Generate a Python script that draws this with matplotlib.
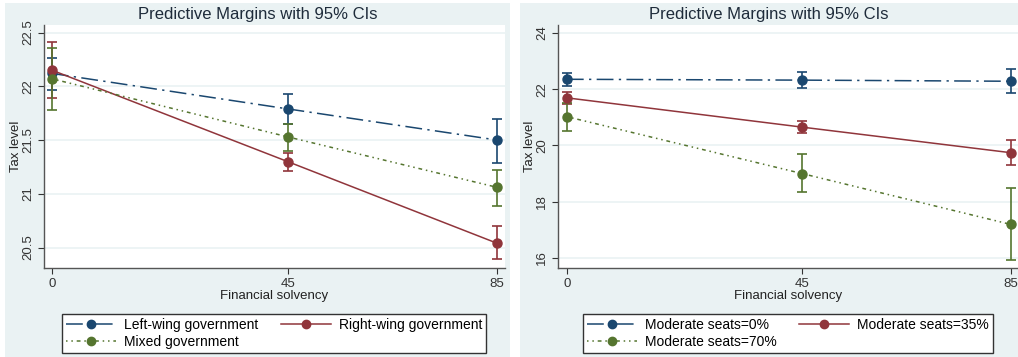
import numpy as np
import matplotlib.pyplot as plt
from matplotlib.lines import Line2D
from matplotlib.patches import Rectangle

plt.rcParams['font.family'] = ['Liberation Sans', 'DejaVu Sans']

# x positions (financial solvency)
solvency = [0, 45, 85]

# left panel: government type
gov_labels = ['Left-wing government', 'Right-wing government', 'Mixed government']
left_wing = [22.12, 21.79, 21.50]
left_wing_lo = [21.97, 21.65, 21.29]
left_wing_hi = [22.26, 21.93, 21.70]
right_wing = [22.15, 21.30, 20.54]
right_wing_lo = [21.89, 21.21, 20.39]
right_wing_hi = [22.41, 21.38, 20.70]
mixed = [22.07, 21.53, 21.06]
mixed_lo = [21.78, 21.40, 20.89]
mixed_hi = [22.36, 21.65, 21.22]

# right panel: share of moderate seats
seat_labels = ['Moderate seats=0%', 'Moderate seats=35%', 'Moderate seats=70%']
seats0 = [22.35, 22.32, 22.28]
seats0_lo = [22.11, 22.03, 21.85]
seats0_hi = [22.59, 22.60, 22.71]
seats35 = [21.69, 20.65, 19.74]
seats35_lo = [21.46, 20.44, 19.29]
seats35_hi = [21.91, 20.88, 20.20]
seats70 = [21.02, 19.00, 17.19]
seats70_lo = [20.51, 18.33, 15.91]
seats70_hi = [21.52, 19.69, 18.49]

NAVY = '#1a476f'
MAROON = '#90353b'
GREEN = '#55752f'
BG = '#eaf2f3'
W, H = 1018, 357

styles = [
    dict(color=NAVY, dashes=(11, 3.5, 1.5, 3.5)),
    dict(color=MAROON, linestyle='-'),
    dict(color=GREEN, dashes=(1, 2.5, 1, 2.5, 2.5, 2.5)),
]

fig = plt.figure(figsize=(W / 100, H / 100), dpi=100)
fig.patch.set_facecolor('white')


def px_axes(x0, y0, x1, y1):
    return fig.add_axes([x0 / W, 1 - y1 / H, (x1 - x0) / W, (y1 - y0) / H])


def panel(bx0, bx1, ax_box, xlim, ylim, yticks, ytlabels, series, labels, leg_center):
    fig.add_artist(Rectangle((bx0 / W, 0), (bx1 - bx0) / W, 1 - 3 / H,
                             transform=fig.transFigure, facecolor=BG,
                             edgecolor='none', zorder=0))
    ax = px_axes(*ax_box)
    ax.set_facecolor('white')
    ax.set_xlim(*xlim)
    ax.set_ylim(*ylim)
    for yt in yticks:
        ax.axhline(yt, color=BG, lw=1.2, zorder=0)
    for (y, lo, hi), st in zip(series, styles):
        y = np.array(y)
        err = [y - np.array(lo), np.array(hi) - y]
        ax.errorbar(solvency, y, yerr=err, fmt='none', ecolor=st['color'],
                    elinewidth=1.2, capsize=3.5, capthick=1.2, zorder=2)
        ax.plot(solvency, y, marker='o', markersize=6.5, lw=1.1, zorder=3, **st)
    ax.set_xticks(solvency)
    ax.set_xticklabels([str(s) for s in solvency], fontsize=9.5)
    ax.set_yticks(yticks)
    ax.set_yticklabels(ytlabels, fontsize=9.5, rotation=90, va='center')
    ax.tick_params(colors='#333333', length=4, width=0.8, direction='out')
    ax.tick_params(axis='y', pad=3)
    for s in ['top', 'right']:
        ax.spines[s].set_visible(False)
    for s in ['left', 'bottom']:
        ax.spines[s].set_color('#555555')
        ax.spines[s].set_linewidth(1.0)
    ax.set_xlabel('Financial solvency', fontsize=9.5, color='#222222', labelpad=0)
    ax.set_ylabel('Tax level', fontsize=9.5, color='#222222', labelpad=0)
    fig.text((bx0 + bx1) / 2 / W, 1 - 14 / H, 'Predictive Margins with 95% CIs',
             ha='center', va='center', fontsize=12, color='#1e2b3a')
    handles = [Line2D([], [], marker='o', markersize=6, lw=1.1, **st) for st in styles]
    # legend fills column-wise: put the third entry under the first
    order = [0, 2, 1]
    cx, cy = leg_center
    leg = fig.legend([handles[i] for i in order], [labels[i] for i in order],
                     ncol=2, loc='center', bbox_to_anchor=(cx / W, 1 - cy / H),
                     fontsize=10, frameon=True, fancybox=False,
                     edgecolor='#333333', facecolor='white', framealpha=1,
                     handlelength=3.6, handletextpad=0.6, borderpad=0.3,
                     labelspacing=0.2, columnspacing=1.6)
    leg.get_frame().set_linewidth(1.0)
    return ax


panel(5, 510, (44, 25, 505, 268), (-1.5, 86.5), (20.31, 22.57),
      [20.5, 21, 21.5, 22, 22.5], ['20.5', '21', '21.5', '22', '22.5'],
      [(left_wing, left_wing_lo, left_wing_hi),
       (right_wing, right_wing_lo, right_wing_hi),
       (mixed, mixed_lo, mixed_hi)],
      gov_labels, (274, 333.5))

panel(520, 1018, (558, 25, 1018, 268), (-1.7, 86.4), (15.64, 24.28),
      [16, 18, 20, 22, 24], ['16', '18', '20', '22', '24'],
      [(seats0, seats0_lo, seats0_hi),
       (seats35, seats35_lo, seats35_hi),
       (seats70, seats70_lo, seats70_hi)],
      seat_labels, (788, 333.5))

fig.savefig('out.png', dpi=100)
